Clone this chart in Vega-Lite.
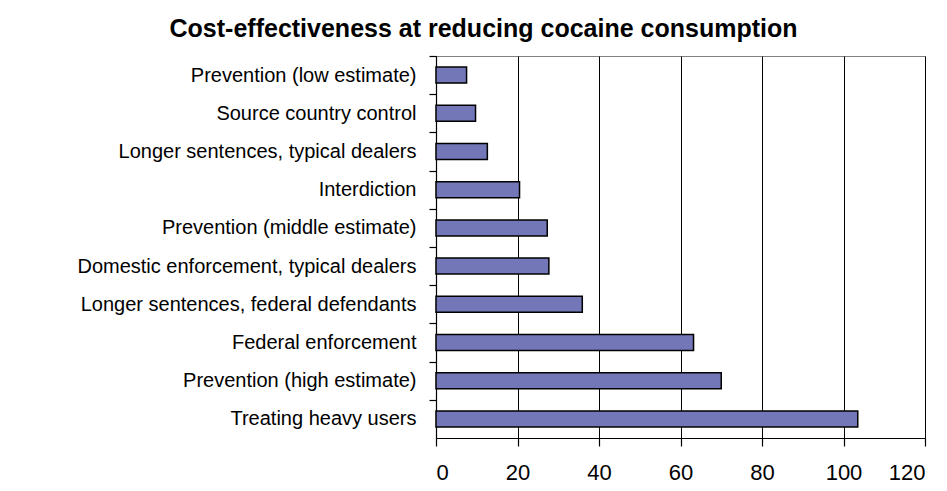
{
  "$schema": "https://vega.github.io/schema/vega-lite/v6.json",
  "width": 489,
  "height": 382,
  "autosize": {"type": "none"},
  "padding": {"left": 436, "top": 56, "right": 22, "bottom": 53},
  "background": "white",
  "title": {
    "text": "Cost-effectiveness at reducing cocaine consumption",
    "anchor": "middle",
    "frame": "group",
    "dx": -197,
    "font": "Liberation Sans",
    "fontSize": 25,
    "fontWeight": "bold",
    "color": "black",
    "offset": 13
  },
  "data": {
    "values": [
      {"measure": "Prevention (low estimate)", "value": 7.5},
      {"measure": "Source country control", "value": 9.7},
      {"measure": "Longer sentences, typical dealers", "value": 12.6},
      {"measure": "Interdiction", "value": 20.5},
      {"measure": "Prevention (middle estimate)", "value": 27.3},
      {"measure": "Domestic enforcement, typical dealers", "value": 27.7},
      {"measure": "Longer sentences, federal defendants", "value": 35.9},
      {"measure": "Federal enforcement", "value": 63.2},
      {"measure": "Prevention (high estimate)", "value": 70},
      {"measure": "Treating heavy users", "value": 103.5}
    ]
  },
  "mark": {"type": "bar", "fill": "#7377B7", "stroke": "black", "strokeWidth": 1.5},
  "encoding": {
    "y": {
      "field": "measure",
      "type": "nominal",
      "sort": null,
      "title": null,
      "scale": {"paddingInner": 0.58, "paddingOuter": 0.29},
      "axis": {
        "labelFont": "Liberation Sans",
        "labelFontSize": 20,
        "labelColor": "black",
        "labelLimit": 600,
        "labelPadding": 13,
        "tickSize": 7,
        "tickColor": "black",
        "tickWidth": 1.2,
        "tickOffset": -19.1,
        "labelOffset": 19.1,
        "domainColor": "black",
        "domainWidth": 1.2,
        "grid": false
      }
    },
    "x": {
      "field": "value",
      "type": "quantitative",
      "title": null,
      "scale": {"domain": [0, 120], "nice": false},
      "axis": {
        "values": [0, 20, 40, 60, 80, 100, 120],
        "labelFont": "Liberation Sans",
        "labelFontSize": 22,
        "labelColor": "black",
        "labelPadding": 16,
        "tickSize": 8,
        "tickColor": "black",
        "tickWidth": 1.2,
        "domainColor": "black",
        "domainWidth": 1.2,
        "grid": true,
        "gridColor": "black",
        "gridOpacity": 1
      }
    }
  },
  "config": {"view": {"stroke": "#808080"}}
}
